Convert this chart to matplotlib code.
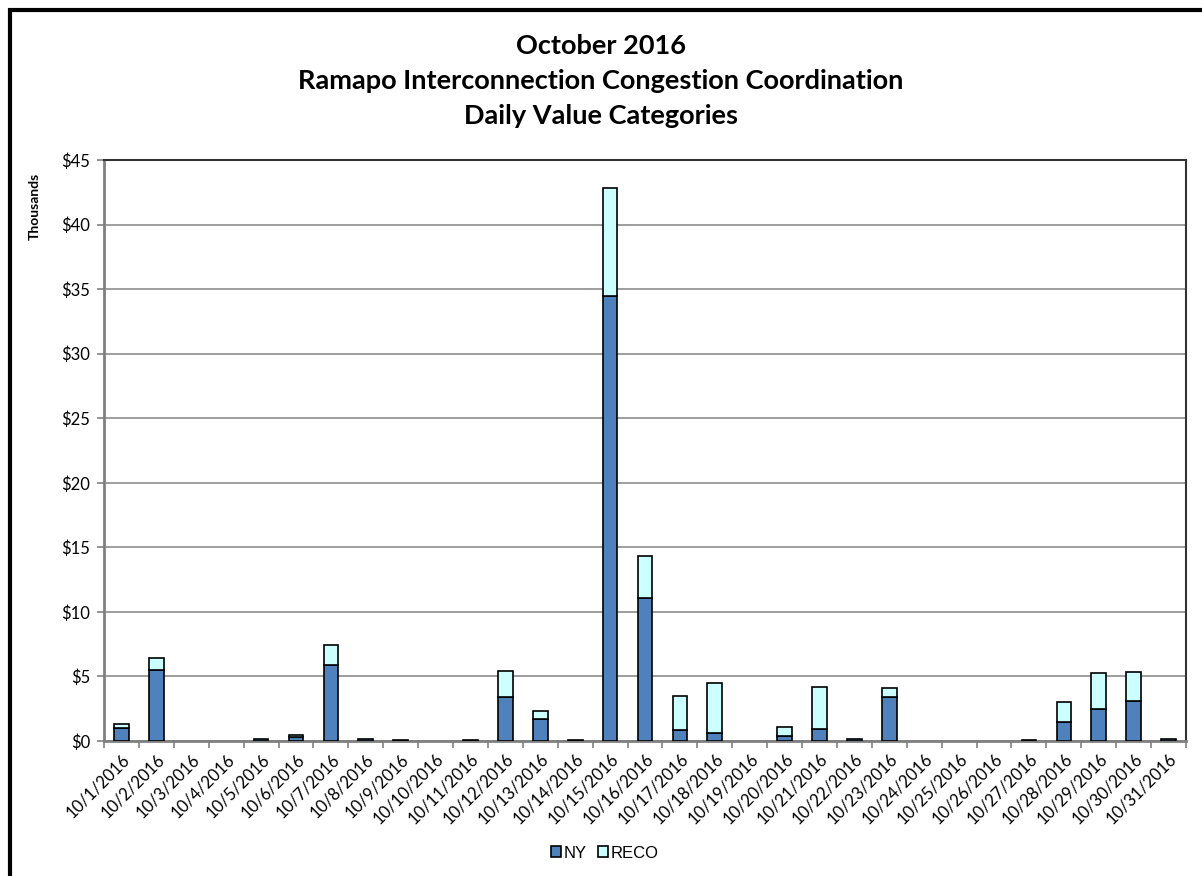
import numpy as np
import matplotlib.pyplot as plt
from matplotlib.patches import Rectangle
from matplotlib.ticker import FuncFormatter, MultipleLocator

# daily values, thousands of $
days = ['10/%d/2016' % d for d in range(1, 32)]
ny = [1.0, 5.5, 0, 0, 0.15, 0.3, 5.9, 0.15, 0.08, 0, 0.08, 3.37, 1.7, 0.08, 34.5, 11.1,
      0.85, 0.65, 0, 0.36, 0.96, 0.15, 3.41, 0, 0, 0, 0.08, 1.47, 2.5, 3.13, 0.15]
reco = [0.3, 0.9, 0, 0, 0, 0.2, 1.55, 0, 0, 0, 0, 2.05, 0.63, 0, 8.3, 3.2,
        2.65, 3.87, 0, 0.73, 3.25, 0, 0.7, 0, 0, 0, 0, 1.53, 2.75, 2.22, 0]

plt.rcParams['font.family'] = ['Lato', 'DejaVu Sans']

fig = plt.figure(figsize=(12.02, 8.76), dpi=100)
ax = fig.add_axes([104/1202, 1-741/876, (1186-104)/1202, (741-160)/876])

x = np.arange(len(days))
# no outline on empty days
ny_edge = ['black' if v > 0 else 'none' for v in ny]
reco_edge = ['black' if v > 0 else 'none' for v in reco]
ax.bar(x, ny, width=0.42, color='#4F81BD', edgecolor=ny_edge, linewidth=1.2, label='NY', zorder=3)
ax.bar(x, reco, bottom=ny, width=0.42, color='#CCFFFF', edgecolor=reco_edge, linewidth=1.2,
       label='RECO', zorder=3)

ax.set_xlim(-0.5, len(days) - 0.5)
ax.set_ylim(0, 45)
ax.yaxis.set_major_locator(MultipleLocator(5))
ax.yaxis.set_major_formatter(FuncFormatter(lambda v, p: '$%d' % v))
ax.grid(axis='y', color='#8c8c8c', linewidth=1.2, zorder=0)

# tick marks between categories, labels at centers
ax.set_xticks(np.arange(-0.5, len(days), 1))
ax.set_xticklabels([])
ax.set_xticks(x, minor=True)
ax.set_xticklabels(days, minor=True, rotation=45, ha='right', rotation_mode='anchor',
                   fontsize=12)
ax.tick_params(axis='x', which='minor', length=0, pad=7)
ax.tick_params(axis='x', which='major', length=5, color='#808080', width=1.2)
ax.tick_params(axis='y', length=5, color='#808080', width=1.2, labelsize=12, pad=5)

for s in ['left', 'bottom']:
    ax.spines[s].set_color('#808080')
    ax.spines[s].set_linewidth(2)
for s in ['top', 'right']:
    ax.spines[s].set_color('#333333')
    ax.spines[s].set_linewidth(1.5)

ax.set_ylabel('Thousands', fontsize=10, fontweight='bold')
ax.yaxis.set_label_coords(-0.058, 0.92)

fig.text(0.5, 1-46/876, 'October 2016', ha='center', va='center', fontsize=19.5, fontweight='bold')
fig.text(0.5, 1-81/876, 'Ramapo Interconnection Congestion Coordination', ha='center', va='center',
         fontsize=19.5, fontweight='bold')
fig.text(0.5, 1-116/876, 'Daily Value Categories', ha='center', va='center', fontsize=19.5,
         fontweight='bold')

fig.legend(loc='center', bbox_to_anchor=(605/1202, 1-853/876), ncol=2, frameon=False,
           handlelength=0.6, handleheight=0.6, handletextpad=0.15, columnspacing=0.7,
           prop={'family': ['Liberation Sans'], 'size': 12})

# outer chart border
fig.patches.append(Rectangle((10/1202, -0.01), 1.0, 1-10/876 + 0.01, transform=fig.transFigure,
                             fill=False, edgecolor='black', linewidth=3))

fig.savefig('out.png', dpi=100)
